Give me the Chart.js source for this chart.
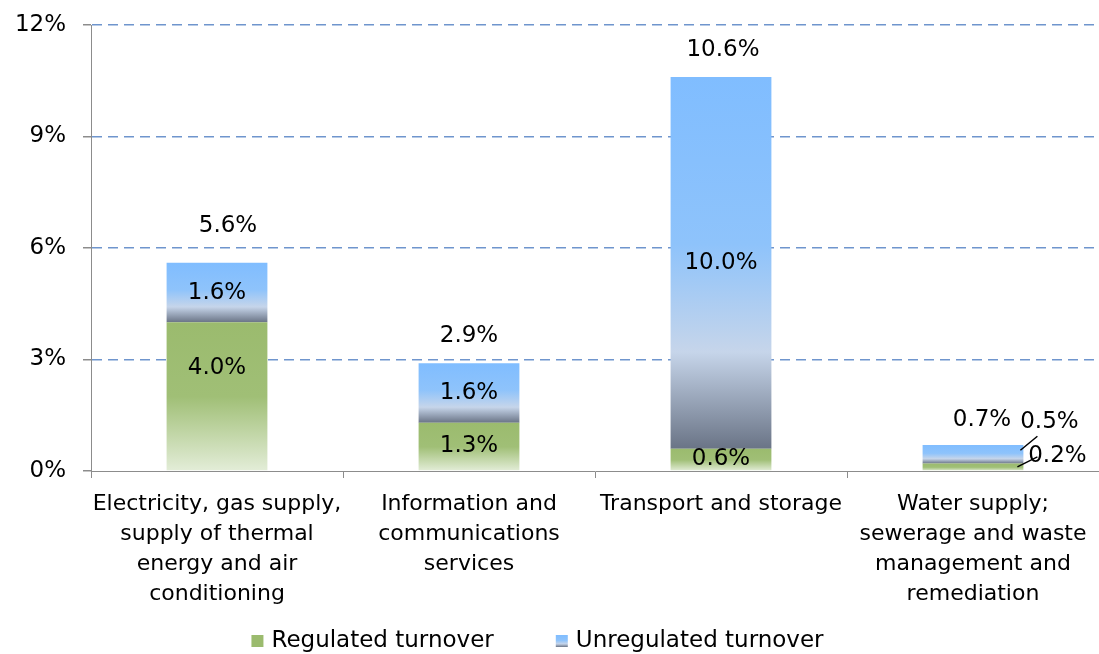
<!DOCTYPE html>
<html>
<head>
<meta charset="utf-8">
<script src="https://cdn.jsdelivr.net/npm/chart.js@4/dist/chart.umd.min.js"></script>
<style>
  html, body { margin: 0; padding: 0; background: #fff; }
  canvas { display: block; }
</style>
</head>
<body>
<canvas id="chart" width="1099" height="654"></canvas>
<script>
// data
const categories = [
  ['Electricity, gas supply,', 'supply of thermal', 'energy and air', 'conditioning'],
  ['Information and', 'communications', 'services'],
  ['Transport and storage'],
  ['Water supply;', 'sewerage and waste', 'management and', 'remediation'],
];
const regulated = [4.0, 1.3, 0.6, 0.2];
const unregulated = [1.6, 1.6, 10.0, 0.5];
const totals = [5.6, 2.9, 10.6, 0.7];
const yTicks = [0, 3, 6, 9, 12];
const seriesNames = ['Regulated turnover', 'Unregulated turnover'];

// label placement tweaks (Excel had these nudged by hand)
const totalShift = [[11, -37], [0, -27], [2, -27], [9, -25]];
const regShift = [-28, 0, 0, 0];
const labelsOutside = [false, false, false, true];

const FONT = '"DejaVu Sans", Verdana, sans-serif';
Chart.defaults.font.family = FONT;
Chart.defaults.color = '#000';

const greenStops = [[0, '#9bbb6e'], [0.5, '#a0bf76'], [1, '#e3edd8']];
const blueStops = [[0, '#80bdff'], [0.45, '#8ec3fb'], [0.74, '#c6d5ea'], [1, '#6a7486']];

const segmentFill = (c) => {
  const { chart, dataIndex, datasetIndex } = c;
  const stops = datasetIndex === 0 ? greenStops : blueStops;
  if (dataIndex === undefined || !chart.chartArea) return stops[0][1];
  const y = chart.scales.y;
  const low = datasetIndex === 0 ? 0 : regulated[dataIndex];
  const high = low + (datasetIndex === 0 ? regulated : unregulated)[dataIndex];
  const g = chart.ctx.createLinearGradient(0, y.getPixelForValue(high), 0, y.getPixelForValue(low));
  stops.forEach(([o, col]) => g.addColorStop(o, col));
  return g;
};

const fmt = (v) => v.toFixed(1) + '%';

const barLabels = {
  id: 'barLabels',
  afterDatasetsDraw(chart) {
    const ctx = chart.ctx;
    const regBars = chart.getDatasetMeta(0).data;
    const unregBars = chart.getDatasetMeta(1).data;
    ctx.save();
    ctx.font = '23px ' + FONT;
    ctx.fillStyle = '#000';
    ctx.strokeStyle = '#000';
    ctx.lineWidth = 1.5;
    ctx.textAlign = 'center';
    ctx.textBaseline = 'middle';
    categories.forEach((cat, i) => {
      const r = regBars[i];
      const u = unregBars[i];
      ctx.fillText(fmt(totals[i]), u.x + totalShift[i][0], u.y + totalShift[i][1]);
      if (labelsOutside[i]) {
        const right = u.x + u.width / 2;
        const uMid = (u.y + u.base) / 2;
        const rMid = (r.y + r.base) / 2;
        ctx.beginPath();
        ctx.moveTo(right - 3, uMid - 4);
        ctx.lineTo(right + 14, uMid - 18);
        ctx.moveTo(right - 6, rMid);
        ctx.lineTo(right + 14, rMid - 10);
        ctx.stroke();
        ctx.fillText(fmt(unregulated[i]), right + 26, u.y - 23);
        ctx.fillText(fmt(regulated[i]), right + 34, rMid - 11);
      } else {
        ctx.fillText(fmt(regulated[i]), r.x, (r.y + r.base) / 2 + regShift[i]);
        ctx.fillText(fmt(unregulated[i]), u.x, (u.y + u.base) / 2);
      }
    });
    ctx.restore();
  },
  afterDraw(chart) {
    // legend at the bottom, boxes filled like the bars
    const ctx = chart.ctx;
    ctx.save();
    ctx.font = '23px ' + FONT;
    ctx.textBaseline = 'middle';
    ctx.textAlign = 'left';
    const box = 12, gap = 8, between = 62, yMid = 641;
    const widths = seriesNames.map((t) => box + gap + ctx.measureText(t).width);
    const total = widths[0] + widths[1] + between;
    let x = chart.width / 2 - 12 - total / 2;
    [greenStops, blueStops].forEach((stops, k) => {
      const g = ctx.createLinearGradient(0, yMid - box / 2, 0, yMid + box / 2);
      if (k === 0) { g.addColorStop(0, '#9bbb6e'); g.addColorStop(1, '#9bbb6e'); }
      else stops.forEach(([o, col]) => g.addColorStop(o, col));
      ctx.fillStyle = g;
      ctx.fillRect(x, yMid - box / 2, box, box);
      ctx.fillStyle = '#000';
      ctx.fillText(seriesNames[k], x + box + gap, yMid);
      x += widths[k] + between;
    });
    ctx.restore();
  },
};

new Chart(document.getElementById('chart'), {
  type: 'bar',
  data: {
    labels: categories,
    datasets: [
      { label: seriesNames[0], data: regulated, backgroundColor: segmentFill, borderWidth: 0 },
      { label: seriesNames[1], data: unregulated, backgroundColor: segmentFill, borderWidth: 0 },
    ],
  },
  options: {
    responsive: false,
    animation: false,
    devicePixelRatio: 1,
    layout: { padding: { top: 25, right: 0, left: 0, bottom: 0 } },
    datasets: { bar: { categoryPercentage: 1, barPercentage: 0.4 } },
    plugins: { legend: { display: false }, tooltip: { enabled: false } },
    scales: {
      x: {
        stacked: true,
        afterFit: (s) => { s.height = 183; },
        grid: { drawOnChartArea: false, drawTicks: true, tickLength: 7, color: '#8c8c8c', offset: true },
        border: { color: '#8c8c8c', width: 1 },
        ticks: { font: { size: 22, lineHeight: 1.37 }, padding: 11, maxRotation: 0, autoSkip: false, color: '#000' },
      },
      y: {
        stacked: true,
        min: 0,
        max: 12,
        afterFit: (s) => { s.width = 91; s.paddingTop = 0; s.paddingBottom = 0; },
        afterBuildTicks: (s) => { s.ticks = yTicks.map((v) => ({ value: v })); },
        grid: {
          color: (c) => (c.tick && c.tick.value === 0 ? 'rgba(255,255,255,0)' : '#6f95cd'),
          lineWidth: 1.5,
          tickColor: '#8c8c8c',
          tickLength: 8,
        },
        border: { color: '#8c8c8c', width: 1, dash: [10, 6] },
        ticks: { font: { size: 23 }, padding: 17, color: '#000', callback: (v) => v + '%' },
      },
    },
  },
  plugins: [barLabels],
});
</script>
</body>
</html>
